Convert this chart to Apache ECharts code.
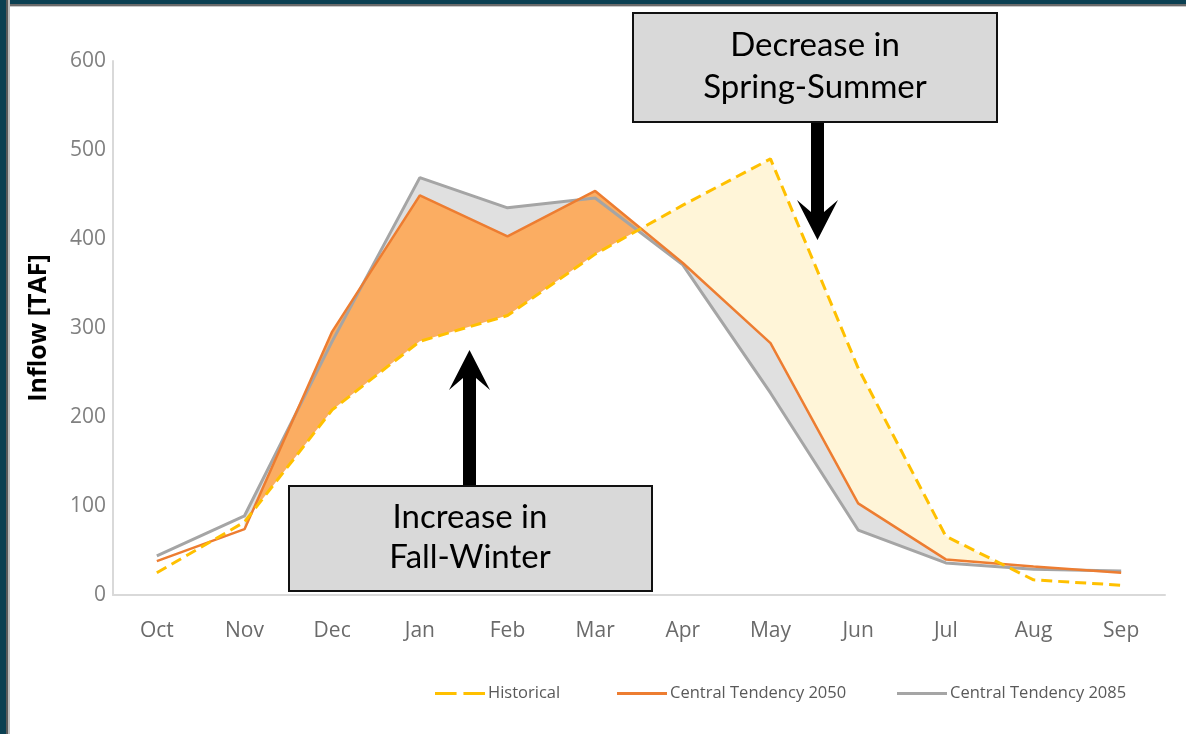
<!DOCTYPE html>
<html>
<head>
<meta charset="utf-8">
<script src="https://cdn.jsdelivr.net/npm/echarts@6/dist/echarts.min.js"></script>
<style>
  html, body { margin: 0; padding: 0; background: #fff; }
  #chart { width: 1186px; height: 734px; }
</style>
</head>
<body>
<div id="chart"></div>
<script>
// month categories (water year)
const months = ['Oct', 'Nov', 'Dec', 'Jan', 'Feb', 'Mar', 'Apr', 'May', 'Jun', 'Jul', 'Aug', 'Sep']
const yTicks = [0, 100, 200, 300, 400, 500, 600]

// inflow in TAF
const historical = [25, 82, 208, 285, 314, 383, 438, 490, 255, 66, 17, 11]
const ct2050 = [38, 74, 296, 449, 403, 454, 373, 283, 103, 40, 32, 25]
const ct2085 = [44, 89, 285, 469, 435, 446, 371, 227, 73, 36, 29, 27]

const seriesNames = ['Historical', 'Central Tendency 2050', 'Central Tendency 2085']

// polygons between line a and line b from index `from` to `to`,
// kept only where sign(a - b) == wantSign (0 keeps everything); cut at crossings
function bandPolys(api, a, b, from, to, wantSign) {
  const polys = []
  let top = []
  let bot = []
  const flush = () => {
    if (top.length > 1) polys.push(top.concat(bot.slice().reverse()))
    top = []
    bot = []
  }
  let prevIn = false
  for (let i = from; i <= to; i++) {
    const d = a[i] - b[i]
    const isIn = wantSign === 0 || d === 0 || Math.sign(d) === wantSign
    const pa = api.coord([i, a[i]])
    const pb = api.coord([i, b[i]])
    if (i > from) {
      const dp = a[i - 1] - b[i - 1]
      if (dp * d < 0) {
        const qa = api.coord([i - 1, a[i - 1]])
        const t = dp / (dp - d)
        const p = [qa[0] + t * (pa[0] - qa[0]), qa[1] + t * (pa[1] - qa[1])]
        top.push(p)
        bot.push(p)
        if (wantSign !== 0 && prevIn) flush()
      }
    }
    if (isIn) {
      top.push(pa)
      bot.push(pb)
    }
    prevIn = isIn
  }
  flush()
  return polys
}

function bandFill(a, b, from, to, wantSign, color) {
  return function(params, api) {
    return {
      type: 'group',
      children: bandPolys(api, a, b, from, to, wantSign).map(pts => ({
        type: 'polygon',
        shape: { points: pts },
        style: { fill: color }
      }))
    }
  }
}

// legend icons: plain bar, and two dashes for the historical line
const iconSolid = 'path://M0,0H50V3H0Z'
const iconDashed = 'path://M0,0H22V3H0Z M29,0H51V3H29Z'

const chart = echarts.init(document.getElementById('chart'))

const legendText = { fontFamily: 'Open Sans', fontSize: 16.5, color: '#595959', padding: [0, 0, 0, -2] }
const legendBase = { top: 680, itemWidth: 50, itemHeight: 3, itemGap: 0, textStyle: legendText }

chart.setOption({
  animation: false,
  backgroundColor: '#fff',
  grid: { left: 113, right: 21, top: 61, bottom: 139 },
  legend: [
    Object.assign({ left: 430, data: [{ name: seriesNames[0], icon: iconDashed }] }, legendBase),
    Object.assign({ left: 612, data: [{ name: seriesNames[1], icon: iconSolid }] }, legendBase),
    Object.assign({ left: 892, data: [{ name: seriesNames[2], icon: iconSolid }] }, legendBase)
  ],
  xAxis: {
    type: 'category',
    data: months,
    boundaryGap: true,
    axisTick: { show: false },
    axisLine: { lineStyle: { color: '#d9d9d9', width: 2 } },
    axisLabel: { fontFamily: 'Open Sans', fontSize: 21, color: '#6a6a6a', margin: 26 }
  },
  yAxis: {
    type: 'value',
    min: yTicks[0],
    max: yTicks[yTicks.length - 1],
    interval: 100,
    name: 'Inflow [TAF]',
    nameLocation: 'middle',
    nameRotate: 90,
    nameGap: 62,
    nameTextStyle: { fontFamily: 'Open Sans', fontSize: 25, fontWeight: 'bold', color: '#000' },
    axisLine: { show: true, lineStyle: { color: '#d9d9d9', width: 2 } },
    axisTick: { show: false },
    splitLine: { show: false },
    axisLabel: { fontFamily: 'Open Sans', fontSize: 21, color: '#808080', margin: 7 }
  },
  series: [
    {
      type: 'custom',
      name: 'gap2085',
      data: [[0]],
      encode: { x: 0 },
      z: 1,
      renderItem: bandFill(ct2085, ct2050, 1, 9, 0, '#e0e0e0')
    },
    {
      type: 'custom',
      name: 'increase',
      data: [[0]],
      encode: { x: 0 },
      z: 2,
      renderItem: bandFill(ct2050, historical, 1, 6, 1, '#fbad62')
    },
    {
      type: 'custom',
      name: 'decrease',
      data: [[0]],
      encode: { x: 0 },
      z: 2,
      renderItem: bandFill(ct2050, historical, 5, 10, -1, '#fff5d8')
    },
    {
      name: seriesNames[2],
      type: 'line',
      data: ct2085,
      symbol: 'none',
      z: 3,
      itemStyle: { color: '#a5a5a5' },
      lineStyle: { color: '#a5a5a5', width: 3 }
    },
    {
      name: seriesNames[1],
      type: 'line',
      data: ct2050,
      symbol: 'none',
      z: 4,
      itemStyle: { color: '#ed7d31' },
      lineStyle: { color: '#ed7d31', width: 2.5 }
    },
    {
      name: seriesNames[0],
      type: 'line',
      data: historical,
      symbol: 'none',
      z: 5,
      itemStyle: { color: '#ffc000' },
      lineStyle: { color: '#ffc000', width: 3, type: [11, 6] }
    }
  ],
  graphic: [
    // dark frame on top and left
    { type: 'rect', left: 0, top: 0, shape: { width: 1186, height: 4 }, style: { fill: '#0b4052' }, z: 100 },
    { type: 'rect', left: 0, top: 4, shape: { width: 1186, height: 2 }, style: { fill: '#6a6a6a' }, z: 100 },
    { type: 'rect', left: 0, top: 6, shape: { width: 1186, height: 1 }, style: { fill: '#c8c8c8' }, z: 100 },
    { type: 'rect', left: 0, top: 0, shape: { width: 6, height: 734 }, style: { fill: '#0b4052' }, z: 100 },
    { type: 'rect', left: 6, top: 0, shape: { width: 2, height: 734 }, style: { fill: '#5a5a5a' }, z: 100 },
    { type: 'rect', left: 8, top: 0, shape: { width: 2, height: 734 }, style: { fill: '#bdbdbd' }, z: 100 },

    // Decrease box + arrow
    {
      type: 'polygon', z: 50,
      shape: { points: [[811, 122], [811, 212], [797, 200], [817.5, 240], [838, 200], [824, 212], [824, 122]] },
      style: { fill: '#000' }
    },
    {
      type: 'rect', z: 51,
      shape: { x: 633, y: 13, width: 364, height: 109 },
      style: { fill: '#d9d9d9', stroke: '#111', lineWidth: 2 }
    },
    {
      type: 'text', z: 52, x: 815, y: 45,
      style: { text: 'Decrease in', fontFamily: 'Lato', fontSize: 33, fill: '#000', align: 'center', verticalAlign: 'middle' }
    },
    {
      type: 'text', z: 52, x: 815, y: 87,
      style: { text: 'Spring-Summer', fontFamily: 'Lato', fontSize: 33, fill: '#000', align: 'center', verticalAlign: 'middle' }
    },

    // Increase box + arrow
    {
      type: 'polygon', z: 50,
      shape: { points: [[463, 486], [463, 378], [449, 390], [469.5, 350], [490, 390], [476, 378], [476, 486]] },
      style: { fill: '#000' }
    },
    {
      type: 'rect', z: 51,
      shape: { x: 289, y: 486, width: 363, height: 105 },
      style: { fill: '#d9d9d9', stroke: '#111', lineWidth: 2 }
    },
    {
      type: 'text', z: 52, x: 470, y: 517,
      style: { text: 'Increase in', fontFamily: 'Lato', fontSize: 33, fill: '#000', align: 'center', verticalAlign: 'middle' }
    },
    {
      type: 'text', z: 52, x: 470, y: 557,
      style: { text: 'Fall-Winter', fontFamily: 'Lato', fontSize: 33, fill: '#000', align: 'center', verticalAlign: 'middle' }
    }
  ]
})
</script>
</body>
</html>
